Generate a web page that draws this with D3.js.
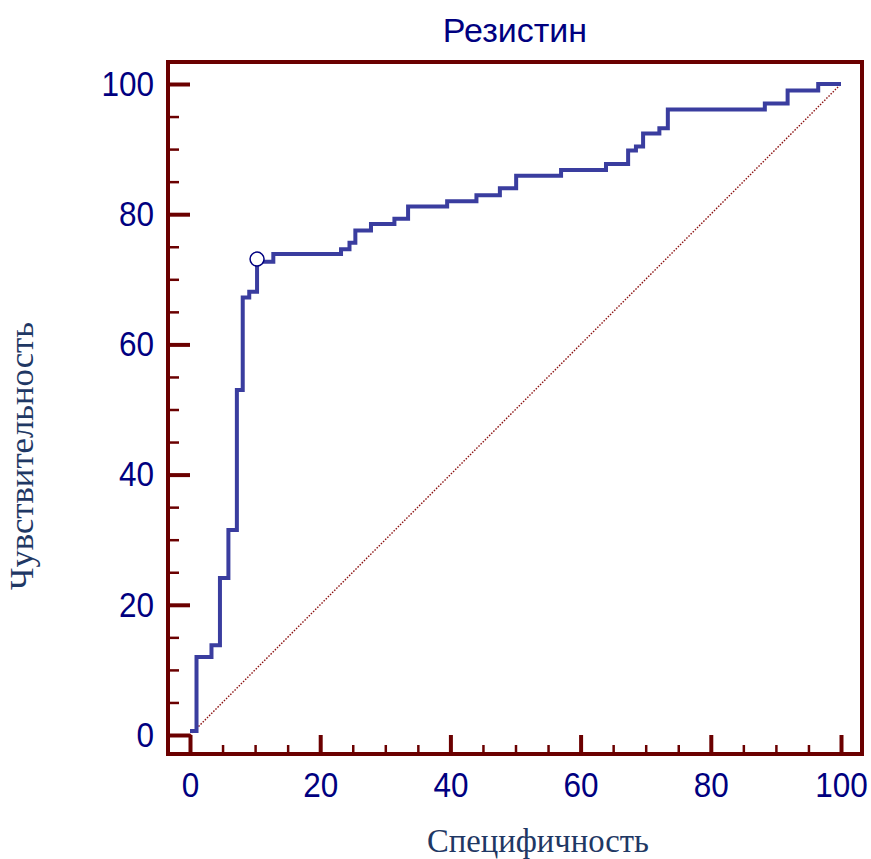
<!DOCTYPE html>
<html>
<head>
<meta charset="utf-8">
<script src="https://cdn.jsdelivr.net/npm/d3@7"></script>
<style>
  body { margin: 0; background: #fff; }
  svg { display: block; }
</style>
</head>
<body>
<div id="chart"></div>
<script>
// ROC curve steps: x where the curve rises, and the sensitivity it rises to
const specificity = [0, 1.0, 3.3, 4.6, 5.9, 7.2, 8.1, 9.1, 10.3, 12.8,
  23.2, 24.5, 25.4, 27.8, 31.4, 33.5, 39.5, 44.0, 47.6, 50.1,
  57.0, 63.9, 67.3, 68.5, 69.6, 72.1, 73.4, 88.3, 91.8, 96.5, 100];
const sensitivity = [0.6, 12.0, 13.8, 24.1, 31.5, 53.0, 67.2, 68.1, 72.7, 73.9,
  74.6, 75.6, 77.5, 78.5, 79.3, 81.2, 82.0, 82.9, 84.0, 85.9,
  86.8, 87.7, 89.8, 90.4, 92.4, 93.2, 96.1, 97.0, 99.0, 100, 100];
const cutoff = [10.3, 73.1];      // optimal criterion marker
const majorTicks = [0, 20, 40, 60, 80, 100];
const minorTicks = d3.range(0, 101, 5).filter(v => v % 20 !== 0);

const W = 871, H = 859;
const FRAME = "#6b0000";
const NAVY  = "#000080";

const svg = d3.select("#chart").append("svg")
  .attr("width", W).attr("height", H);

const x = d3.scaleLinear().domain([0, 100]).range([190, 841]);
const y = d3.scaleLinear().domain([0, 100]).range([735, 84]);

const frameL = 168, frameR = 862, frameT = 62, frameB = 754;

// axes (ticks point inward from the frame)
function styleAxis(g, w) {
  g.select(".domain").remove();
  g.selectAll(".tick line").attr("stroke", FRAME).attr("stroke-width", w);
  g.selectAll("text")
    .attr("fill", NAVY)
    .attr("font-family", "Liberation Sans, Arial, sans-serif")
    .attr("font-size", 35)
    .each(function () {
      // the original labels are a little condensed
      const len = this.getComputedTextLength();
      if (len > 0) d3.select(this).attr("textLength", len * 0.9).attr("lengthAdjust", "spacingAndGlyphs");
    });
}

svg.append("g").attr("transform", `translate(0,${frameB})`)
  .call(d3.axisBottom(x).tickValues(minorTicks).tickSize(-9).tickFormat(""))
  .call(g => styleAxis(g, 2.5));
svg.append("g").attr("transform", `translate(0,${frameB})`)
  .call(d3.axisBottom(x).tickValues(majorTicks).tickSize(-(frameB - y(0))).tickPadding(18))
  .call(g => styleAxis(g, 4));

svg.append("g").attr("transform", `translate(${frameL},0)`)
  .call(d3.axisLeft(y).tickValues(minorTicks).tickSize(-11).tickFormat(""))
  .call(g => styleAxis(g, 2.5));
svg.append("g").attr("transform", `translate(${frameL},0)`)
  .call(d3.axisLeft(y).tickValues(majorTicks).tickSize(-(x(0) - frameL)).tickPadding(14))
  .call(g => styleAxis(g, 4));

// frame
svg.append("rect")
  .attr("x", frameL).attr("y", frameT)
  .attr("width", frameR - frameL).attr("height", frameB - frameT)
  .attr("fill", "none").attr("stroke", FRAME).attr("stroke-width", 4);

// reference diagonal
svg.append("line")
  .attr("x1", x(0)).attr("y1", y(0))
  .attr("x2", x(100)).attr("y2", y(100))
  .attr("stroke", "#8b1010").attr("stroke-width", 1.4)
  .attr("stroke-dasharray", "1.5,1.5");

// ROC curve
const pts = specificity.map((s, i) => [s, sensitivity[i]]);
svg.append("path")
  .datum(pts)
  .attr("d", d3.line().x(d => x(d[0])).y(d => y(d[1])).curve(d3.curveStepAfter))
  .attr("fill", "none")
  .attr("stroke", "#3a3d9f")
  .attr("stroke-width", 4)
  .attr("stroke-linejoin", "miter");

svg.append("circle")
  .attr("cx", x(cutoff[0])).attr("cy", y(cutoff[1]))
  .attr("r", 7)
  .attr("fill", "#fff").attr("stroke", NAVY).attr("stroke-width", 1.5);

// titles
svg.append("text")
  .attr("x", 515).attr("y", 42)
  .attr("text-anchor", "middle")
  .attr("fill", NAVY)
  .attr("font-family", "Liberation Sans, Arial, sans-serif")
  .attr("font-size", 34)
  .text("Резистин");

svg.append("text")
  .attr("x", 538).attr("y", 852)
  .attr("text-anchor", "middle")
  .attr("fill", "#1f3864")
  .attr("font-family", "Liberation Serif, serif")
  .attr("font-size", 33)
  .attr("textLength", 222).attr("lengthAdjust", "spacingAndGlyphs")
  .text("Специфичность");

svg.append("text")
  .attr("transform", "translate(33,456) rotate(-90)")
  .attr("text-anchor", "middle")
  .attr("fill", "#1f3864")
  .attr("font-family", "Liberation Serif, serif")
  .attr("font-size", 33)
  .attr("textLength", 268).attr("lengthAdjust", "spacingAndGlyphs")
  .text("Чувствительность");
</script>
</body>
</html>
